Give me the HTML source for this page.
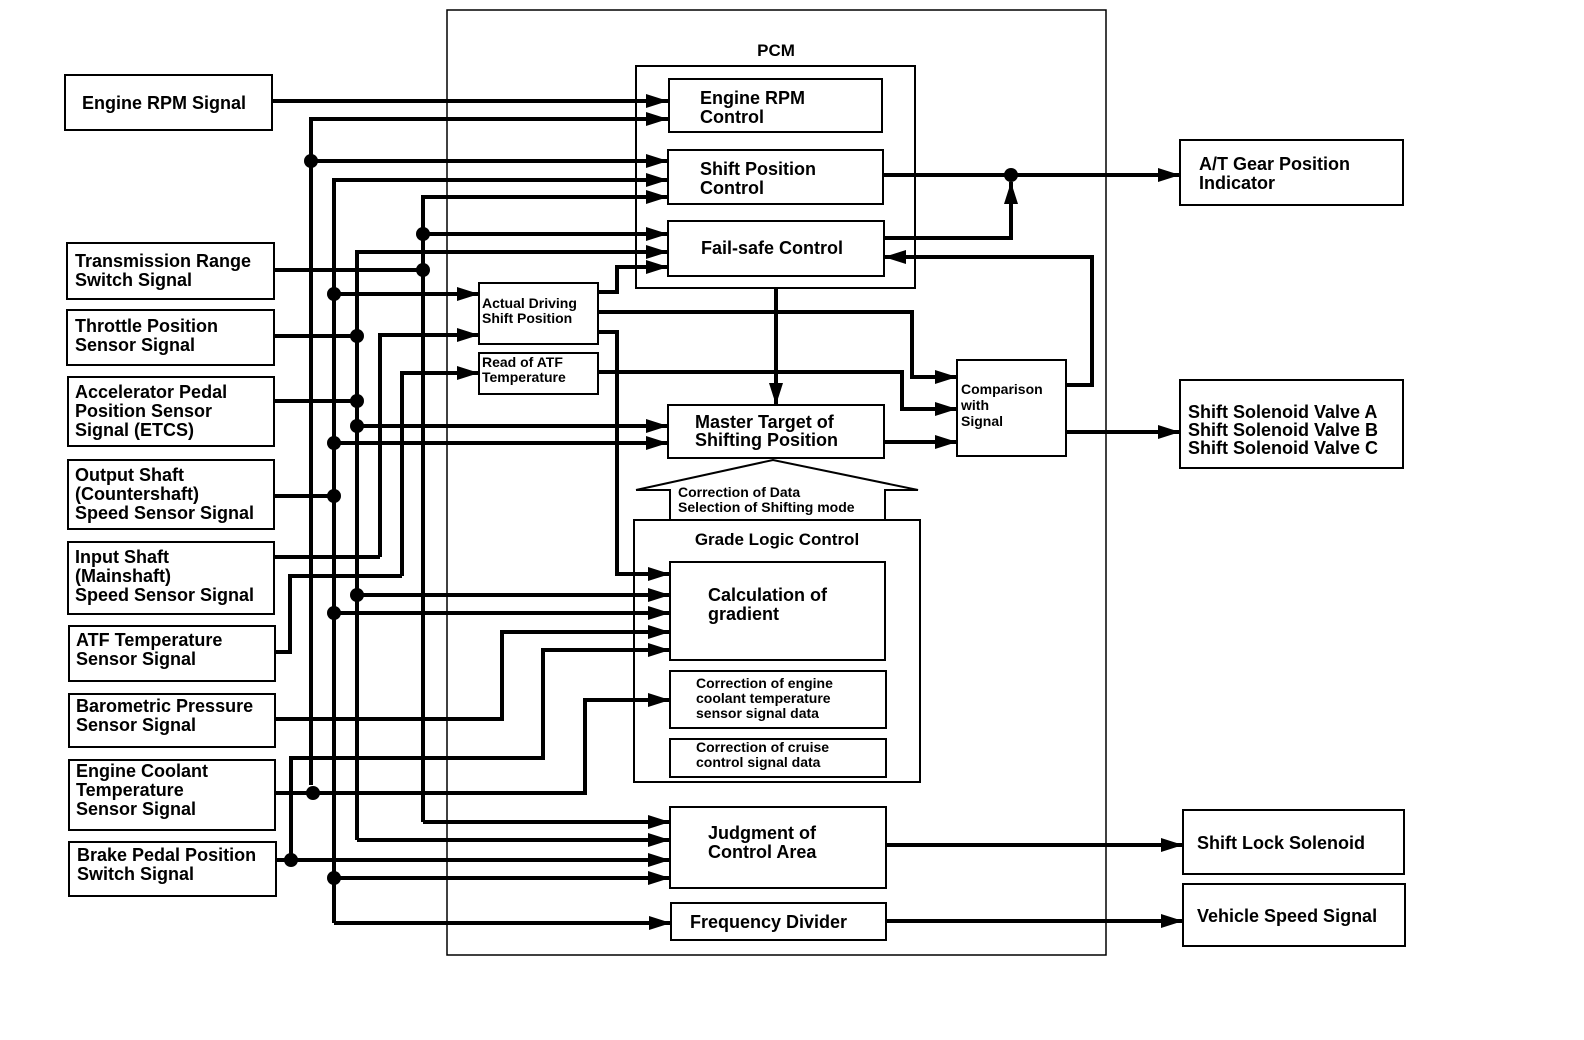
<!DOCTYPE html>
<html><head><meta charset="utf-8"><style>
html,body{margin:0;padding:0;background:#fff}
svg{display:block}
text{font-family:"Liberation Sans",sans-serif;font-weight:bold;fill:#000}
</style></head><body>
<svg width="1584" height="1040" viewBox="0 0 1584 1040" xmlns="http://www.w3.org/2000/svg">
<defs>
<marker id="b" viewBox="0 0 10 10" refX="10" refY="5" markerWidth="22" markerHeight="14" markerUnits="userSpaceOnUse" orient="auto" preserveAspectRatio="none">
<path d="M0,0 L10,5 L0,10 z" fill="#000"/></marker>
</defs>
<g fill="none" stroke="#000">
<rect x="447" y="10" width="659" height="945" stroke-width="1.5"/>
<rect x="636" y="66" width="279" height="222" stroke-width="2"/>
<g stroke-width="2">
<rect x="65" y="75" width="207" height="55"/>
<rect x="67" y="243" width="207" height="56"/>
<rect x="67" y="310" width="207" height="55"/>
<rect x="68" y="377" width="206" height="69"/>
<rect x="68" y="460" width="206" height="69"/>
<rect x="68" y="542" width="206" height="72"/>
<rect x="69" y="626" width="206" height="55"/>
<rect x="69" y="694" width="206" height="53"/>
<rect x="69" y="760" width="206" height="70"/>
<rect x="69" y="842" width="207" height="54"/>
<rect x="669" y="79" width="213" height="53"/>
<rect x="668" y="150" width="215" height="54"/>
<rect x="668" y="221" width="216" height="55"/>
<rect x="479" y="283" width="119" height="61"/>
<rect x="479" y="353" width="119" height="41"/>
<rect x="668" y="405" width="216" height="53"/>
<rect x="957" y="360" width="109" height="96"/>
<rect x="634" y="520" width="286" height="262"/>
<rect x="670" y="562" width="215" height="98"/>
<rect x="670" y="671" width="216" height="57"/>
<rect x="670" y="739" width="216" height="38"/>
<rect x="670" y="807" width="216" height="81"/>
<rect x="671" y="903" width="215" height="37"/>
<rect x="1180" y="140" width="223" height="65"/>
<rect x="1180" y="380" width="223" height="88"/>
<rect x="1183" y="810" width="221" height="64"/>
<rect x="1183" y="884" width="222" height="62"/>
</g>
<path d="M636,490 L773,460 L918,490 L885,490 L885,520 M670,520 L670,490 L636,490" stroke-width="2"/>
<g stroke-width="4" marker-end="url(#b)">
<path d="M272,101 H668"/>
<path d="M311,785 V119 H668"/>
<path d="M311,161 H668"/>
<path d="M334,923 V180 H668"/>
<path d="M423,822 V197 H668"/>
<path d="M423,234 H668"/>
<path d="M357,840 V252 H668"/>
<path d="M598,292 H617 V267 H668"/>
<path d="M334,294 H479"/>
<path d="M380,557 V335 H479"/>
<path d="M402,576 V373 H479"/>
<path d="M357,426 H668"/>
<path d="M334,443 H668"/>
<path d="M598,332 H617 V574 H670"/>
<path d="M357,595 H670"/>
<path d="M334,613 H670"/>
<path d="M275,719 H502 V632 H670"/>
<path d="M291,860 V758 H543 V650 H670"/>
<path d="M275,793 H585 V700 H670"/>
<path d="M423,822 H670"/>
<path d="M357,840 H670"/>
<path d="M275,860 H670"/>
<path d="M334,878 H670"/>
<path d="M334,923 H671"/>
<path d="M598,312 H912 V377 H957"/>
<path d="M598,372 H902 V409 H957"/>
<path d="M884,442 H957"/>
<path d="M1066,385 H1092 V257 H884"/>
<path d="M1066,432 H1180"/>
<path d="M884,238 H1011 V182"/>
<path d="M883,175 H1180"/>
<path d="M776,288 V405"/>
<path d="M886,845 H1183"/>
<path d="M886,921 H1183"/>
</g>
<g stroke-width="4">
<path d="M274,270 H423"/>
<path d="M274,336 H357"/>
<path d="M274,401 H357"/>
<path d="M274,496 H334"/>
<path d="M274,557 H380"/>
<path d="M275,652 H290 V576 H402"/>
</g>
</g>
<g fill="#000">
<circle cx="311" cy="161" r="7"/><circle cx="423" cy="234" r="7"/><circle cx="423" cy="270" r="7"/>
<circle cx="334" cy="294" r="7"/><circle cx="357" cy="336" r="7"/><circle cx="357" cy="401" r="7"/>
<circle cx="357" cy="426" r="7"/><circle cx="334" cy="443" r="7"/><circle cx="334" cy="496" r="7"/>
<circle cx="357" cy="595" r="7"/><circle cx="334" cy="613" r="7"/><circle cx="313" cy="793" r="7"/>
<circle cx="291" cy="860" r="7"/><circle cx="334" cy="878" r="7"/><circle cx="1011" cy="175" r="7"/>
</g>
<g font-size="18">
<text x="776" y="56" text-anchor="middle" font-size="17">PCM</text>
<text x="82" y="109">Engine RPM Signal</text>
<text x="75" y="267">Transmission Range</text><text x="75" y="286">Switch Signal</text>
<text x="75" y="332">Throttle Position</text><text x="75" y="351">Sensor Signal</text>
<text x="75" y="398">Accelerator Pedal</text><text x="75" y="417">Position Sensor</text><text x="75" y="436">Signal (ETCS)</text>
<text x="75" y="481">Output Shaft</text><text x="75" y="500">(Countershaft)</text><text x="75" y="519">Speed Sensor Signal</text>
<text x="75" y="563">Input Shaft</text><text x="75" y="582">(Mainshaft)</text><text x="75" y="601">Speed Sensor Signal</text>
<text x="76" y="646">ATF Temperature</text><text x="76" y="665">Sensor Signal</text>
<text x="76" y="712">Barometric Pressure</text><text x="76" y="731">Sensor Signal</text>
<text x="76" y="777">Engine Coolant</text><text x="76" y="796">Temperature</text><text x="76" y="815">Sensor Signal</text>
<text x="77" y="861">Brake Pedal Position</text><text x="77" y="880">Switch Signal</text>
<text x="700" y="104">Engine RPM</text><text x="700" y="123">Control</text>
<text x="700" y="175">Shift Position</text><text x="700" y="194">Control</text>
<text x="701" y="254">Fail-safe Control</text>
<text x="482" y="308" font-size="14">Actual Driving</text><text x="482" y="323" font-size="14">Shift Position</text>
<text x="482" y="367" font-size="14">Read of ATF</text><text x="482" y="382" font-size="14">Temperature</text>
<text x="695" y="428">Master Target of</text><text x="695" y="446">Shifting Position</text>
<text x="961" y="394" font-size="14">Comparison</text><text x="961" y="410" font-size="14">with</text><text x="961" y="426" font-size="14">Signal</text>
<text x="678" y="497" font-size="14">Correction of Data</text><text x="678" y="512" font-size="14">Selection of Shifting mode</text>
<text x="777" y="545" text-anchor="middle" font-size="17">Grade Logic Control</text>
<text x="708" y="601">Calculation of</text><text x="708" y="620">gradient</text>
<text x="696" y="688" font-size="14">Correction of engine</text><text x="696" y="703" font-size="14">coolant temperature</text><text x="696" y="718" font-size="14">sensor signal data</text>
<text x="696" y="752" font-size="14">Correction of cruise</text><text x="696" y="767" font-size="14">control signal data</text>
<text x="708" y="839">Judgment of</text><text x="708" y="858">Control Area</text>
<text x="690" y="928">Frequency Divider</text>
<text x="1199" y="170">A/T Gear Position</text><text x="1199" y="189">Indicator</text>
<text x="1188" y="418">Shift Solenoid Valve A</text><text x="1188" y="436">Shift Solenoid Valve B</text><text x="1188" y="454">Shift Solenoid Valve C</text>
<text x="1197" y="849">Shift Lock Solenoid</text>
<text x="1197" y="922">Vehicle Speed Signal</text>
</g>
</svg>
</body></html>
